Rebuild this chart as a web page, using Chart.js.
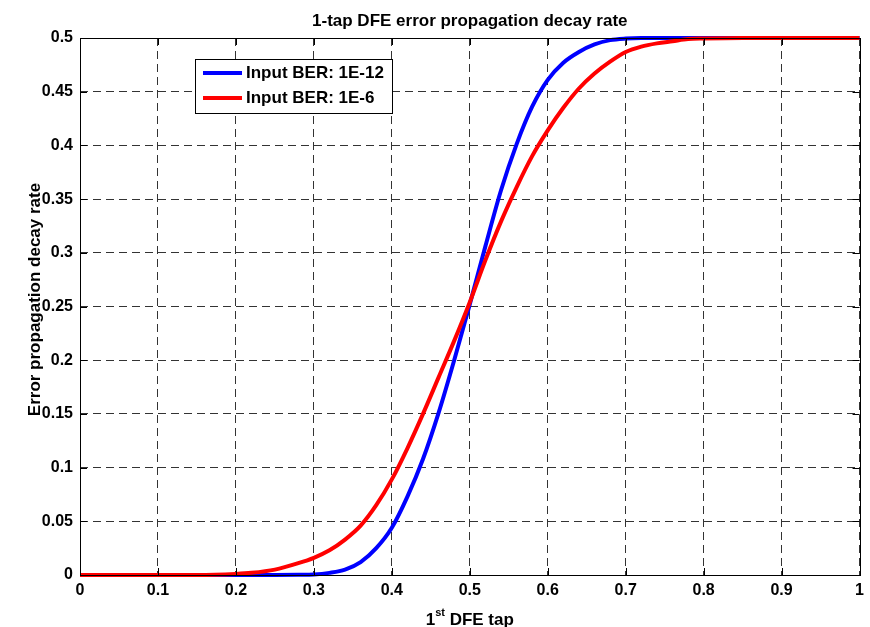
<!DOCTYPE html>
<html>
<head>
<meta charset="utf-8">
<script src="https://cdn.jsdelivr.net/npm/chart.js@4.4.1/dist/chart.umd.min.js"></script>
<style>
  body { margin: 0; background: #fff; }
</style>
</head>
<body>
<canvas id="dfeChart" width="870" height="627"></canvas>
<script>
var ctx = document.getElementById('dfeChart').getContext('2d');

// 1st DFE tap values (x axis)
var tapValues = [0, 0.05, 0.1, 0.15, 0.2, 0.22, 0.25, 0.28, 0.3, 0.32, 0.34, 0.36, 0.38, 0.4,
  0.42, 0.44, 0.46, 0.48, 0.5, 0.52, 0.54, 0.56, 0.58, 0.6, 0.62, 0.64, 0.66, 0.68, 0.7,
  0.72, 0.74, 0.76, 0.78, 0.8, 0.85, 0.9, 0.95, 1];

// decay rate, input BER 1E-12
var ber12 = [0, 0, 0, 0, 0, 0, 0, 0.0002, 0.0005, 0.002, 0.005, 0.012, 0.025, 0.044,
  0.073, 0.108, 0.151, 0.2, 0.252, 0.306, 0.358, 0.401, 0.436, 0.461, 0.477, 0.487, 0.494, 0.498, 0.4995,
  0.5, 0.5, 0.5, 0.5, 0.5, 0.5, 0.5, 0.5, 0.5];

// decay rate, input BER 1E-6
var ber6 = [0, 0, 0, 0, 0.001, 0.002, 0.005, 0.011, 0.016, 0.023, 0.033, 0.046, 0.065, 0.089,
  0.118, 0.15, 0.184, 0.218, 0.254, 0.293, 0.329, 0.361, 0.39, 0.414, 0.435, 0.453, 0.467, 0.478, 0.487,
  0.492, 0.495, 0.497, 0.499, 0.4995, 0.5, 0.5, 0.5, 0.5];

var seriesNames = ['Input BER: 1E-12', 'Input BER: 1E-6'];
var chartTitle = '1-tap DFE error propagation decay rate';
var yTitle = 'Error propagation decay rate';

function points(ys) {
  var out = [];
  for (var i = 0; i < tapValues.length; i++) {
    out.push({ x: tapValues[i], y: ys[i] });
  }
  return out;
}

var FONT = '"Liberation Sans", Arial, sans-serif';

var matlabDecor = {
  id: 'matlabDecor',
  afterDraw: function (chart) {
    var c = chart.ctx;
    var a = chart.chartArea;
    var xs = chart.scales.x, ys = chart.scales.y;
    c.save();
    // axes box
    c.strokeStyle = '#000';
    c.lineWidth = 1;
    c.setLineDash([]);
    c.strokeRect(Math.round(a.left) + 0.5, Math.round(a.top) + 0.5,
      Math.round(a.right - a.left), Math.round(a.bottom - a.top));
    // inward ticks
    c.beginPath();
    xs.ticks.forEach(function (t) {
      var px = Math.round(xs.getPixelForValue(t.value)) + 0.5;
      c.moveTo(px, a.bottom); c.lineTo(px, a.bottom - 7);
      c.moveTo(px, a.top); c.lineTo(px, a.top + 7);
    });
    ys.ticks.forEach(function (t) {
      var py = Math.round(ys.getPixelForValue(t.value)) + 0.5;
      c.moveTo(a.left, py); c.lineTo(a.left + 7, py);
      c.moveTo(a.right, py); c.lineTo(a.right - 7, py);
    });
    c.stroke();

    c.fillStyle = '#000';
    var cx = (a.left + a.right) / 2;
    // title
    c.font = 'bold 17px ' + FONT;
    c.textAlign = 'center';
    c.textBaseline = 'alphabetic';
    c.fillText(chartTitle, cx, 26);

    // x title with superscript
    var big = 'bold 17px ' + FONT, small = 'bold 11px ' + FONT;
    c.font = big; var w1 = c.measureText('1').width; var w3 = c.measureText(' DFE tap').width;
    c.font = small; var w2 = c.measureText('st').width;
    var sx = cx - (w1 + w2 + w3) / 2;
    c.textAlign = 'left';
    c.font = big; c.fillText('1', sx, 625);
    c.font = small; c.fillText('st', sx + w1, 616);
    c.font = big; c.fillText(' DFE tap', sx + w1 + w2, 625);

    // y title
    c.save();
    c.translate(40, (a.top + a.bottom) / 2 - 7);
    c.rotate(-Math.PI / 2);
    c.textAlign = 'center';
    c.fillText(yTitle, 0, 0);
    c.restore();

    // legend
    var lx = a.left + 115, ly = a.top + 21;
    c.fillStyle = '#fff';
    c.fillRect(lx, ly, 197, 54);
    c.strokeStyle = '#000';
    c.lineWidth = 1;
    c.strokeRect(lx + 0.5, ly + 0.5, 197, 54);
    c.font = 'bold 17px ' + FONT;
    c.textAlign = 'left';
    c.textBaseline = 'middle';
    var rows = [0, 1];
    rows.forEach(function (i) {
      var ds = chart.data.datasets[i];
      var ry = ly + 14 + i * 25;
      c.strokeStyle = ds.borderColor;
      c.lineWidth = 4;
      c.beginPath();
      c.moveTo(lx + 8, ry); c.lineTo(lx + 47, ry);
      c.stroke();
      c.fillStyle = '#000';
      c.fillText(ds.label, lx + 51, ry);
    });
    c.restore();
  }
};

var gridOpts = { color: 'rgba(0,0,0,0.8)', lineWidth: 1, drawTicks: false };
var tickFont = { family: FONT, size: 16, weight: 'bold' };

var decayChart = new Chart(ctx, {
  type: 'line',
  data: {
    datasets: [{
      label: seriesNames[0],
      data: points(ber12),
      borderColor: '#0000ff',
      borderWidth: 4,
      pointRadius: 0,
      fill: false,
      clip: false,
      cubicInterpolationMode: 'monotone',
      order: 1
    }, {
      label: seriesNames[1],
      data: points(ber6),
      borderColor: '#ff0000',
      borderWidth: 4,
      pointRadius: 0,
      fill: false,
      clip: false,
      cubicInterpolationMode: 'monotone',
      order: 0
    }]
  },
  options: {
    responsive: false,
    animation: false,
    layout: { padding: { top: 38, right: 9, left: 0, bottom: 0 } },
    plugins: {
      legend: { display: false },
      title: { display: false },
      tooltip: { enabled: false }
    },
    scales: {
      x: {
        type: 'linear',
        min: 0,
        max: 1,
        ticks: {
          stepSize: 0.1,
          color: '#000',
          font: tickFont,
          padding: 6,
          maxRotation: 0,
          callback: function (v) { return String(+v.toFixed(2)); }
        },
        grid: gridOpts,
        border: { display: false, dash: [8, 5] },
        afterFit: function (s) { s.height = 52; }
      },
      y: {
        type: 'linear',
        min: 0,
        max: 0.5,
        ticks: {
          stepSize: 0.05,
          color: '#000',
          font: tickFont,
          padding: 7,
          callback: function (v) { return String(+v.toFixed(2)); }
        },
        grid: gridOpts,
        border: { display: false, dash: [8, 5] },
        afterFit: function (s) { s.width = 80; }
      }
    }
  },
  plugins: [matlabDecor]
});
</script>
</body>
</html>
